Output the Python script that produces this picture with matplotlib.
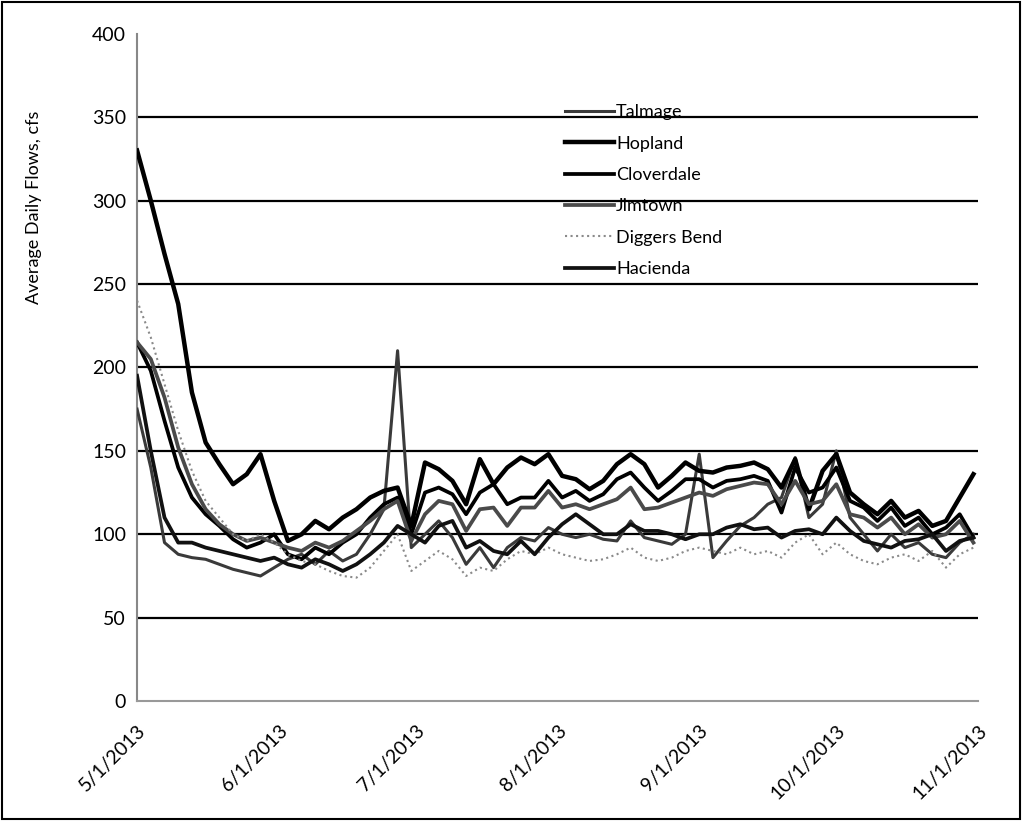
import numpy as np
import pandas as pd
import matplotlib
matplotlib.use("Agg")
import matplotlib.pyplot as plt

# sampled every 3 days starting 5/1/2013
dayOffsets = list(range(0, 184, 3))

talmage = [175, 140, 95, 88, 86, 85, 82, 79, 77, 75, 80, 85, 88, 82, 90, 84, 88, 100, 115, 210,
           92, 100, 108, 98, 82, 92, 80, 92, 98, 96, 104, 100, 98, 100, 97, 96, 108, 98, 96, 94,
           100, 148, 86, 96, 105, 110, 118, 122, 146, 110, 118, 150, 110, 100, 90, 100, 92, 95, 88, 86,
           95, 100]
hopland = [330, 300, 268, 238, 185, 155, 142, 130, 136, 148, 120, 96, 100, 108, 103, 110, 115, 122, 126, 128,
           105, 143, 139, 132, 118, 145, 130, 140, 146, 142, 148, 135, 133, 127, 132, 142, 148, 142, 128, 135,
           143, 138, 137, 140, 141, 143, 139, 128, 145, 115, 138, 148, 125, 118, 112, 120, 110, 114, 105, 108,
           122, 136]
cloverdale = [215, 198, 168, 140, 122, 112, 105, 97, 92, 95, 100, 88, 85, 92, 88, 95, 100, 110, 118, 122,
              100, 125, 128, 124, 112, 125, 130, 118, 122, 122, 132, 122, 126, 120, 124, 133, 137, 128, 120, 126,
              133, 133, 128, 132, 133, 135, 132, 113, 140, 125, 128, 140, 120, 116, 108, 116, 105, 110, 100, 104,
              112, 98]
jimtown = [215, 205, 182, 152, 130, 115, 106, 100, 96, 98, 95, 92, 90, 95, 92, 96, 102, 108, 115, 120,
           96, 112, 120, 118, 102, 115, 116, 105, 116, 116, 126, 116, 118, 115, 118, 121, 128, 115, 116, 119,
           122, 125, 123, 127, 129, 131, 130, 118, 132, 118, 120, 130, 112, 110, 104, 110, 100, 106, 98, 100,
           108, 95]
diggersBend = [240, 218, 190, 162, 138, 120, 110, 100, 96, 100, 95, 88, 84, 82, 78, 75, 74, 80, 90, 100,
               78, 84, 90, 85, 75, 80, 78, 85, 90, 88, 92, 88, 86, 84, 85, 88, 92, 86, 84, 86,
               90, 92, 90, 88, 92, 88, 90, 86, 95, 100, 88, 95, 88, 84, 82, 86, 88, 84, 90, 80,
               88, 92]
hacienda = [195, 150, 110, 95, 95, 92, 90, 88, 86, 84, 86, 82, 80, 85, 82, 78, 82, 88, 95, 105,
            100, 95, 105, 108, 92, 96, 90, 88, 96, 88, 98, 106, 112, 106, 100, 100, 106, 102, 102, 100,
            97, 100, 100, 104, 106, 103, 104, 98, 102, 103, 100, 110, 102, 96, 94, 92, 96, 97, 100, 90,
            96, 98]

seriesNames = ["Talmage", "Hopland", "Cloverdale", "Jimtown", "Diggers Bend", "Hacienda"]
seriesValues = [talmage, hopland, cloverdale, jimtown, diggersBend, hacienda]
tickLabels = ["5/1/2013", "6/1/2013", "7/1/2013", "8/1/2013", "9/1/2013", "10/1/2013", "11/1/2013"]

startDate = pd.Timestamp("2013-05-01")
dates = [startDate + pd.Timedelta(days=d) for d in dayOffsets]
tickDates = pd.to_datetime(tickLabels, format="%m/%d/%Y")

# grayscale styles, the reference is a b/w scan
styles = {
    "Talmage": dict(color="#3a3a3a", lw=2.2, ls="-"),
    "Hopland": dict(color="black", lw=3.2, ls="-"),
    "Cloverdale": dict(color="black", lw=2.7, ls="-"),
    "Jimtown": dict(color="#4a4a4a", lw=2.7, ls="-"),
    "Diggers Bend": dict(color="#8a8a8a", lw=1.5, ls=":"),
    "Hacienda": dict(color="#111111", lw=2.7, ls="-"),
}

plt.rcParams['font.family'] = ['Lato', 'DejaVu Sans']

fig = plt.figure(figsize=(10.23, 8.21), dpi=100)
ax = fig.add_axes([0.134, 0.146, 0.822, 0.813])

for y in range(50, 400, 50):
    ax.axhline(y, color="black", lw=1.6, zorder=1)

for name, vals in zip(seriesNames, seriesValues):
    st = styles[name]
    ax.plot(dates, vals, color=st["color"], lw=st["lw"], ls=st["ls"], label=name, zorder=3)

ax.set_ylim(0, 400)
ax.set_yticks(range(0, 401, 50))
ax.set_xlim(tickDates[0], tickDates[-1])
ax.set_xticks(tickDates)
ax.set_xticklabels(tickLabels, rotation=45, ha="right", rotation_mode="anchor")
ax.tick_params(axis="both", length=0, labelsize=14, pad=8)
ax.tick_params(axis="x", pad=15)
ax.set_ylabel("Average Daily Flows, cfs", fontsize=13)
ax.yaxis.set_label_coords(-0.113, 0.74)

for side in ["top", "right"]:
    ax.spines[side].set_visible(False)
ax.spines["left"].set_color("#888888")
ax.spines["bottom"].set_color("#999999")
ax.spines["left"].set_linewidth(1.5)
ax.spines["bottom"].set_linewidth(1.5)

leg = ax.legend(loc="upper left", bbox_to_anchor=(0.5, 0.905), frameon=False,
                fontsize=13, handlelength=2.7, handletextpad=0.15, labelspacing=0.85,
                borderaxespad=0)

# outer border of the chart area
fig.patches.append(plt.Rectangle((0.002, 0.003), 0.995, 0.994, transform=fig.transFigure,
                                 fill=False, edgecolor="black", lw=1.5))

fig.savefig("out.png", dpi=100)
